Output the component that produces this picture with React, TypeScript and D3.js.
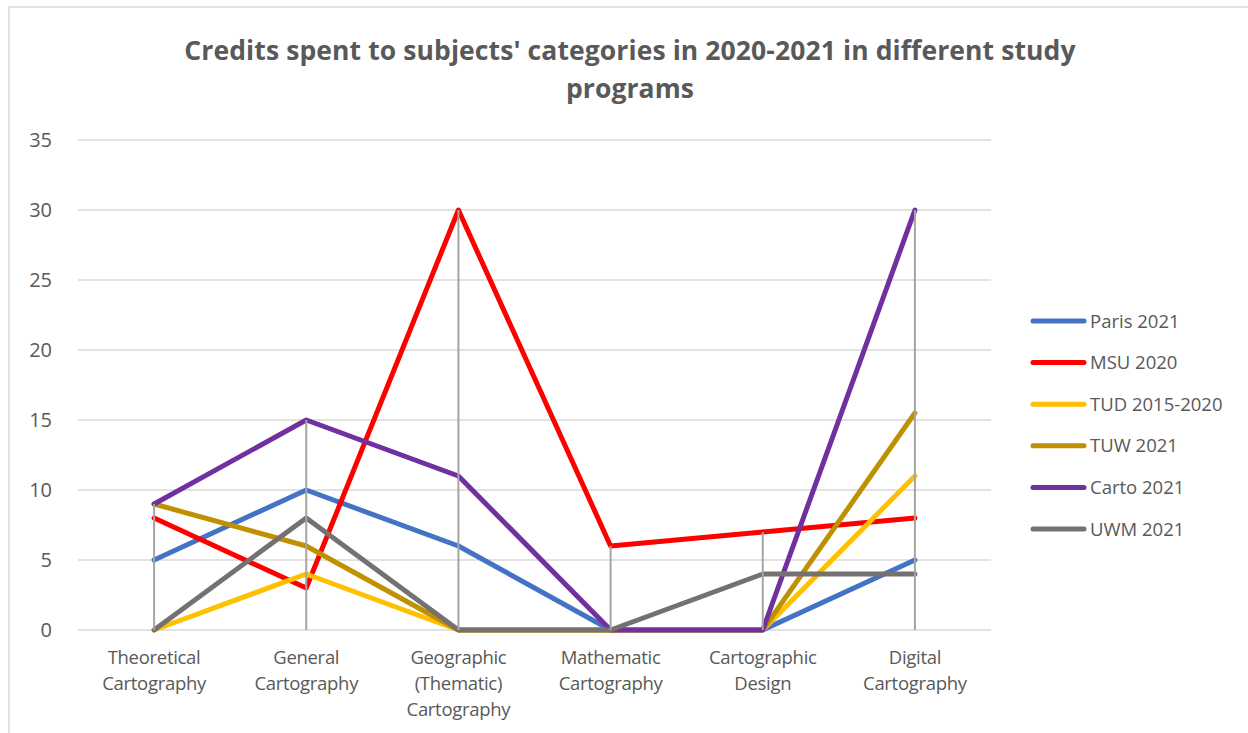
import React from "react";
import * as d3 from "d3";

const categories = [
  ["Theoretical", "Cartography"],
  ["General", "Cartography"],
  ["Geographic", "(Thematic)", "Cartography"],
  ["Mathematic", "Cartography"],
  ["Cartographic", "Design"],
  ["Digital", "Cartography"],
];

const paris2021 = [5, 10, 6, 0, 0, 5];
const msu2020 = [8, 3, 30, 6, 7, 8];
const tud20152020 = [0, 4, 0, 0, 0, 11];
const tuw2021 = [9, 6, 0, 0, 0, 15.5];
const carto2021 = [9, 15, 11, 0, 0, 30];
const uwm2021 = [0, 8, 0, 0, 4, 4];

const seriesNames = ["Paris 2021", "MSU 2020", "TUD 2015-2020", "TUW 2021", "Carto 2021", "UWM 2021"];
const seriesColors = ["#4472C4", "#FF0000", "#FFC000", "#BF9000", "#7030A0", "#767171"];
const yTicks = [0, 5, 10, 15, 20, 25, 30, 35];

const titleLines = ["Credits spent to subjects' categories in 2020-2021 in different study", "programs"];

export default function App() {
  const W = 1248, H = 733;
  const plot = { left: 78, right: 991, top: 140, bottom: 630 };
  const series = [paris2021, msu2020, tud20152020, tuw2021, carto2021, uwm2021];
  const x = d3.scaleBand<number>().domain(d3.range(categories.length)).range([plot.left, plot.right]);
  const cx = (i: number) => (x(i) as number) + x.bandwidth() / 2;
  const y = d3.scaleLinear().domain([0, 35]).range([plot.bottom, plot.top]);
  const line = d3.line<number>().x((_, i) => cx(i)).y((d) => y(d));
  const font = "'Open Sans', sans-serif";
  const textColor = "#595959";
  const maxes = categories.map((_, i) => d3.max(series, (s) => s[i]) as number);

  return (
    <svg width={W} height={H} style={{ position: "absolute", left: 0, top: 0, background: "#fff" }}>
      <rect x={9} y={7} width={W + 20} height={H + 20} fill="#fff" stroke="#D9D9D9" strokeWidth={1.5} />
      {titleLines.map((t, i) => (
        <text key={i} x={630} y={60 + i * 38} textAnchor="middle" fontFamily={font} fontWeight={700}
          fontSize={26.5} fill={textColor} letterSpacing={0.1}>{t}</text>
      ))}
      {yTicks.map((t) => (
        <g key={t}>
          <line x1={plot.left} x2={plot.right} y1={y(t)} y2={y(t)} stroke="#D9D9D9" strokeWidth={1.5} />
          <text x={52} y={y(t) + 7} textAnchor="end" fontFamily={font} fontSize={20} fill={textColor}>{t}</text>
        </g>
      ))}
      {categories.map((lines, i) => (
        <text key={i} x={cx(i)} textAnchor="middle" fontFamily={font} fontSize={18.5} fill={textColor} letterSpacing={-0.3}>
          {lines.map((l, j) => (
            <tspan key={j} x={cx(i)} y={664 + j * 26}>{l}</tspan>
          ))}
        </text>
      ))}
      {series.map((s, k) => (
        <path key={k} d={line(s) as string} fill="none" stroke={seriesColors[k]} strokeWidth={5}
          strokeLinejoin="round" strokeLinecap="round" />
      ))}
      {maxes.map((m, i) => (
        <line key={i} x1={cx(i)} x2={cx(i)} y1={y(m)} y2={y(0)} stroke="#A5A5A5" strokeWidth={2} />
      ))}
      {seriesNames.map((n, k) => {
        const ly = 321 + k * 41.6;
        return (
          <g key={n}>
            <line x1={1033} x2={1084} y1={ly} y2={ly} stroke={seriesColors[k]} strokeWidth={5} strokeLinecap="round" />
            <text x={1090} y={ly + 6.5} fontFamily={font} fontSize={18.5} fill={textColor}>{n}</text>
          </g>
        );
      })}
    </svg>
  );
}
